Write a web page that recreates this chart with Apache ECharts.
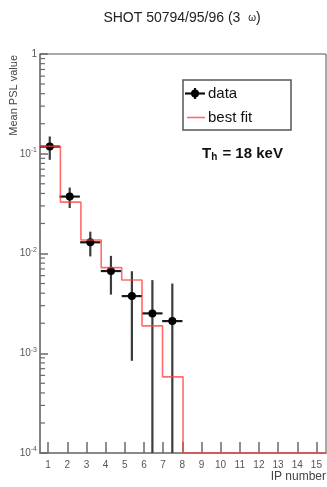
<!DOCTYPE html>
<html>
<head>
<meta charset="utf-8">
<script src="https://cdn.jsdelivr.net/npm/echarts@6/dist/echarts.min.js"></script>
<style>
  html, body { margin: 0; padding: 0; background: #ffffff; }
  #chart { width: 327px; height: 487px; }
</style>
</head>
<body>
<div id="chart"></div>
<script>
// Measured points: IP position, bin half-width, mean PSL and its error
const ipNumber = [1.085, 2.125, 3.2, 4.277, 5.37, 6.44, 7.48];
const ipHalfWidth = [0.53, 0.53, 0.53, 0.53, 0.53, 0.53, 0.53];
const meanPSL = [0.118, 0.0372, 0.01295, 0.00667, 0.00374, 0.00251, 0.0021];
const meanPSLErr = [0.031, 0.0086, 0.0036, 0.0028, 0.0029, 0.0029, 0.0029];

// Best-fit histogram (bin edges and contents)
const fitEdges = [0.575, 1.64, 2.71, 3.77, 4.84, 5.9, 6.97, 8.04, 9.1, 10.17, 11.24, 12.3, 13.37, 14.44, 15.5];
const fitValues = [0.119, 0.0327, 0.01367, 0.00721, 0.00542, 0.00188, 0.00058, 0, 0, 0, 0, 0, 0, 0];

// Axis ranges and tick labels
const xMin = 0.575, xMax = 15.5;
const yMin = 1e-4, yMax = 1;
const xTickValues = [1, 2, 3, 4, 5, 6, 7, 8, 9, 10, 11, 12, 13, 14, 15];

const FONT = '"Liberation Sans", Arial, Helvetica, sans-serif';

// minor ticks of the log axis: 2..9 x each decade
const yMinorTicks = [];
for (let d = -4; d < 0; d++) {
  for (let k = 2; k <= 9; k++) yMinorTicks.push(k * Math.pow(10, d));
}

// step outline of the fit, empty bins sit on the axis floor
const fitLine = [];
fitValues.forEach(function (v, i) {
  const y = Math.max(v, yMin);
  fitLine.push([fitEdges[i], y]);
  fitLine.push([fitEdges[i + 1], y]);
});

const pointData = ipNumber.map(function (x, i) {
  return [x, meanPSL[i], meanPSLErr[i], ipHalfWidth[i]];
});

const chart = echarts.init(document.getElementById('chart'), null, { renderer: 'canvas' });

chart.setOption({
  animation: false,
  backgroundColor: '#ffffff',
  grid: {
    left: 40, right: 1, top: 54, bottom: 34,
    show: true, borderColor: '#555', borderWidth: 1, backgroundColor: 'transparent'
  },
  xAxis: {
    type: 'value',
    min: xMin, max: xMax,
    axisLine: { show: true, lineStyle: { color: '#8a8a8a', width: 2 } },
    axisTick: { show: true, inside: true, length: 11, customValues: xTickValues,
      lineStyle: { color: '#6a6a6a', width: 1.5 } },
    axisLabel: { customValues: xTickValues, margin: 7, fontSize: 10, color: '#555', fontFamily: FONT },
    splitLine: { show: false }
  },
  yAxis: {
    type: 'log', logBase: 10,
    min: yMin, max: yMax,
    axisLine: { show: true, lineStyle: { color: '#777', width: 1.5 } },
    axisTick: { show: true, inside: true, length: 8, lineStyle: { color: '#6a6a6a', width: 1.5 } },
    axisLabel: {
      margin: 3, color: '#555', fontFamily: FONT, fontSize: 10,
      formatter: function (v) {
        const e = Math.round(Math.log10(v));
        return e === 0 ? '1' : '10{sup|' + e + '}';
      },
      rich: { sup: { fontSize: 7, color: '#555', fontFamily: FONT, padding: [0, 0, 7, 0] } }
    },
    splitLine: { show: false },
    minorTick: { show: false }
  },
  series: [
    {
      // minor ticks on the left axis
      type: 'custom',
      silent: true,
      z: 3,
      data: yMinorTicks.map(function (v) { return [xMin, v]; }),
      renderItem: function (params, api) {
        const p = api.coord([api.value(0), api.value(1)]);
        return {
          type: 'line',
          shape: { x1: p[0], y1: p[1], x2: p[0] + 5, y2: p[1] },
          style: { stroke: '#6a6a6a', lineWidth: 1.2 }
        };
      }
    },
    {
      name: 'data',
      type: 'custom',
      z: 4,
      data: pointData,
      renderItem: function (params, api) {
        const x = api.value(0), y = api.value(1), ey = api.value(2), ex = api.value(3);
        const c = api.coord([x, y]);
        const top = api.coord([x, y + ey]);
        const bot = api.coord([x, Math.max(y - ey, yMin)]);
        const left = api.coord([Math.max(x - ex, xMin), y]);
        const right = api.coord([Math.min(x + ex, xMax), y]);
        return {
          type: 'group',
          children: [
            { type: 'line', shape: { x1: c[0], y1: top[1], x2: c[0], y2: bot[1] },
              style: { stroke: '#3c3c3c', lineWidth: 2.2 } },
            { type: 'line', shape: { x1: left[0], y1: c[1], x2: right[0], y2: c[1] },
              style: { stroke: '#1a1a1a', lineWidth: 2.2 } },
            { type: 'circle', shape: { cx: c[0], cy: c[1], r: 4 },
              style: { fill: '#000' } }
          ]
        };
      }
    },
    {
      name: 'best fit',
      type: 'line',
      z: 5,
      data: fitLine,
      showSymbol: false,
      symbol: 'none',
      lineStyle: { color: '#ff3b3b', width: 1.6, opacity: 0.75 },
      clip: true
    }
  ],
  graphic: [
    {
      type: 'text', x: 182, y: 18,
      style: {
        text: 'SHOT 50794/95/96 (3  {w|ω})',
        font: '14px ' + FONT, fill: '#222', align: 'center', verticalAlign: 'middle',
        rich: { w: { fontSize: 10, fontFamily: FONT, fill: '#222' } }
      }
    },
    {
      type: 'text', x: 14, y: 55, rotation: Math.PI / 2,
      style: { text: 'Mean PSL value', font: '11px ' + FONT, fill: '#444',
        align: 'right', verticalAlign: 'middle' }
    },
    {
      type: 'text', x: 326, y: 477,
      style: { text: 'IP number', font: '12px ' + FONT, fill: '#444',
        align: 'right', verticalAlign: 'middle' }
    },
    // legend box
    {
      type: 'rect', shape: { x: 183, y: 80, width: 108, height: 50 },
      style: { fill: '#fff', stroke: '#555', lineWidth: 1.5 }, z: 10
    },
    { type: 'line', shape: { x1: 185, y1: 93.5, x2: 205, y2: 93.5 },
      style: { stroke: '#111', lineWidth: 2.2 }, z: 11 },
    { type: 'line', shape: { x1: 195, y1: 88, x2: 195, y2: 99 },
      style: { stroke: '#111', lineWidth: 2.2 }, z: 11 },
    { type: 'circle', shape: { cx: 195, cy: 93.5, r: 4 }, style: { fill: '#000' }, z: 11 },
    { type: 'text', x: 208, y: 94,
      style: { text: 'data', font: '15px ' + FONT, fill: '#111', verticalAlign: 'middle' }, z: 11 },
    { type: 'line', shape: { x1: 187, y1: 117.5, x2: 205, y2: 117.5 },
      style: { stroke: '#ff3b3b', lineWidth: 1.6, opacity: 0.75 }, z: 11 },
    { type: 'text', x: 208, y: 118,
      style: { text: 'best fit', font: '15px ' + FONT, fill: '#111', verticalAlign: 'middle' }, z: 11 },
    {
      type: 'text', x: 202, y: 154,
      style: {
        text: 'T{s|h} = 18 keV',
        font: 'bold 15px ' + FONT, fill: '#111', verticalAlign: 'middle',
        rich: { s: { fontSize: 10, fontWeight: 'bold', fontFamily: FONT, fill: '#111', padding: [7, 1, 0, 0] } }
      }, z: 11
    }
  ]
});
</script>
</body>
</html>
